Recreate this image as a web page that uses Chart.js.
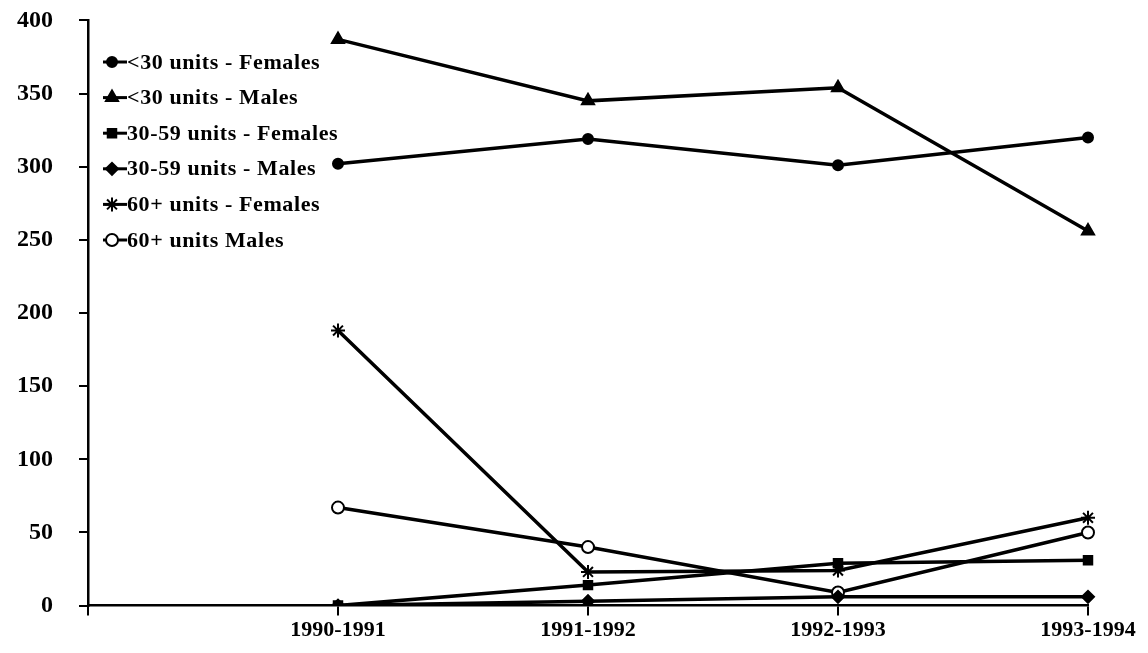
<!DOCTYPE html>
<html>
<head>
<meta charset="utf-8">
<script src="https://cdn.jsdelivr.net/npm/chart.js@4/dist/chart.umd.min.js"></script>
<style>
  html, body { margin: 0; padding: 0; background: #fff; overflow: hidden; }
  #c { display: block; margin-top: -20px; }
</style>
</head>
<body>
<canvas id="c" width="1148" height="673"></canvas>
<script>
// ---- data ----
const categories = ['', '1990-1991', '1991-1992', '1992-1993', '1993-1994'];
const years = ['1990-1991', '1991-1992', '1992-1993', '1993-1994'];
const seriesNames = ['<30 units - Females', '<30 units - Males', '30-59 units - Females',
                     '30-59 units - Males', '60+ units - Females', '60+ units Males'];
const under30Females = [302, 319, 301, 320];
const under30Males = [387, 345, 354, 256];
const mid3059Females = [0, 14, 29, 31];
const mid3059Males = [0, 3, 6, 6];
const over60Females = [188, 23, 24, 60];
const over60Males = [67, 40, 9, 50];
const yTicks = [0, 50, 100, 150, 200, 250, 300, 350, 400];

const seriesValues = [under30Females, under30Males, mid3059Females, mid3059Males, over60Females, over60Males];
const styles = [
  { pointStyle: 'circle', radius: 5, fill: '#000' },
  { pointStyle: 'triangle', radius: 7, fill: '#000' },
  { pointStyle: 'rect', radius: 6, fill: '#000' },
  { pointStyle: 'rectRot', radius: 6, fill: '#000' },
  { pointStyle: 'star', radius: 7, fill: '#000' },
  { pointStyle: 'circle', radius: 6, fill: '#fff' }
];

const FONT = '"Liberation Serif", "DejaVu Serif", serif';
const SHIFT = 20; // canvas is shifted up by this many px via CSS

const datasets = seriesValues.map((vals, i) => ({
  label: seriesNames[i],
  data: years.map((y, j) => ({ x: y, y: vals[j] })),
  borderColor: '#000',
  backgroundColor: styles[i].fill,
  borderWidth: 3.5,
  pointStyle: styles[i].pointStyle,
  pointRadius: styles[i].radius,
  pointBorderWidth: 2,
  pointBorderColor: '#000',
  pointBackgroundColor: styles[i].fill,
  tension: 0,
  fill: false
}));

const legendPlugin = {
  id: 'insideLegend',
  afterDraw(chart) {
    const ctx = chart.ctx;
    ctx.save();
    ctx.font = 'bold 22px ' + FONT;
    if ('letterSpacing' in ctx) ctx.letterSpacing = '0.6px';
    ctx.fillStyle = '#000';
    ctx.textBaseline = 'middle';
    ctx.textAlign = 'left';
    chart.data.datasets.forEach((ds, i) => {
      const y = SHIFT + 62 + i * 35.6;
      ctx.strokeStyle = '#000';
      ctx.lineWidth = 3;
      ctx.beginPath();
      ctx.moveTo(103, y);
      ctx.lineTo(127, y);
      ctx.stroke();
      ctx.fillStyle = ds.pointBackgroundColor;
      ctx.strokeStyle = '#000';
      ctx.lineWidth = 2;
      Chart.helpers.drawPoint(ctx, {
        pointStyle: ds.pointStyle,
        radius: ds.pointRadius,
        rotation: 0,
        borderWidth: 2
      }, 112, y);
      ctx.fillStyle = '#000';
      ctx.fillText(ds.label, 127, y + 1);
    });
    ctx.restore();
  }
};

new Chart(document.getElementById('c'), {
  type: 'line',
  data: { labels: categories, datasets },
  options: {
    responsive: false,
    animation: false,
    devicePixelRatio: 1,
    layout: { padding: { left: 0, right: 60, top: 0, bottom: 7 } },
    plugins: { legend: { display: false }, tooltip: { enabled: false } },
    scales: {
      x: {
        type: 'category',
        offset: false,
        border: { display: true, color: '#000', width: 2.5 },
        grid: { display: true, drawOnChartArea: false, drawTicks: true, tickLength: 10, color: '#000', lineWidth: 2 },
        ticks: {
          color: '#000',
          font: { family: FONT, size: 22, weight: 'bold' },
          padding: 2,
          maxRotation: 0,
          autoSkip: false
        }
      },
      y: {
        min: 0,
        max: 400,
        afterBuildTicks: (scale) => { scale.ticks = yTicks.map(v => ({ value: v })); },
        afterFit: (scale) => { scale.width = 88; },
        border: { display: true, color: '#000', width: 2.5 },
        grid: { display: true, drawOnChartArea: false, drawTicks: true, tickLength: 9, color: '#000', lineWidth: 2 },
        ticks: {
          color: '#000',
          font: { family: FONT, size: 24, weight: 'bold' },
          padding: 26
        }
      }
    }
  },
  plugins: [legendPlugin]
});
</script>
</body>
</html>
